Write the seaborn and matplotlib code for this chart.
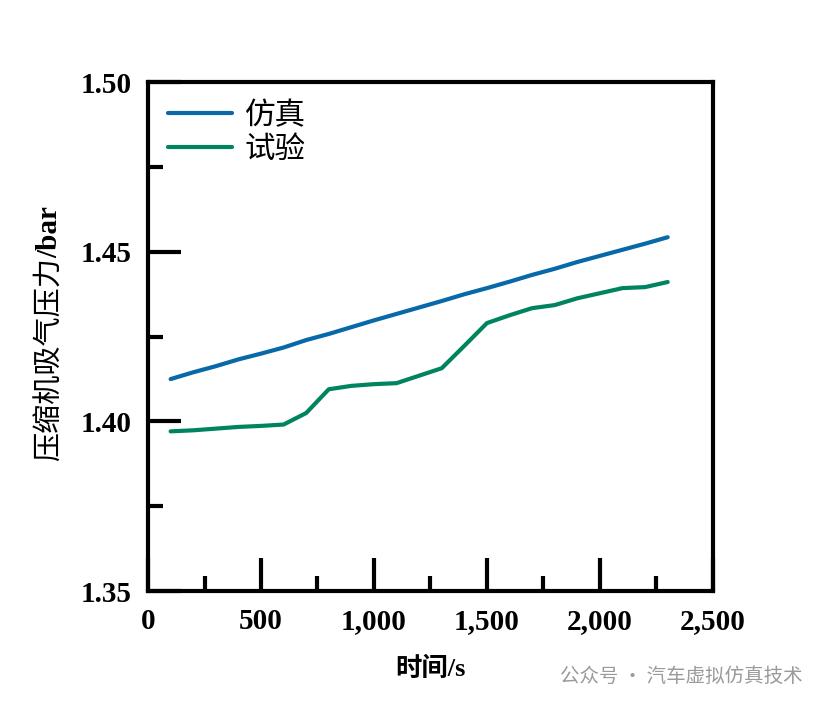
import numpy as np
import pandas as pd
import matplotlib
matplotlib.use("Agg")
import matplotlib.pyplot as plt
from matplotlib.ticker import MultipleLocator, FuncFormatter
import seaborn as sns

sns.set_style("white")
plt.rcParams["font.family"] = ["Liberation Serif", "Noto Sans CJK SC"]
plt.rcParams["text.color"] = "black"
plt.rcParams["axes.labelcolor"] = "black"
plt.rcParams["xtick.color"] = "black"
plt.rcParams["ytick.color"] = "black"

# 时间 (s)
time_s = [100, 200, 300, 400, 500, 600, 700, 800, 900, 1000, 1100, 1200,
          1300, 1400, 1500, 1600, 1700, 1800, 1900, 2000, 2100, 2200, 2300]
# 仿真
sim = [1.4125, 1.4145, 1.4163, 1.4183, 1.4200, 1.4218, 1.4240, 1.4258,
       1.4278, 1.4298, 1.4317, 1.4336, 1.4355, 1.4375, 1.4393, 1.4412,
       1.4432, 1.4450, 1.4470, 1.4488, 1.4506, 1.4524, 1.4543]
# 试验
test = [1.3971, 1.3974, 1.3979, 1.3984, 1.3987, 1.3991, 1.4025, 1.4095,
        1.4105, 1.4110, 1.4113, 1.4135, 1.4157, 1.4223, 1.4290, 1.4313,
        1.4334, 1.4343, 1.4363, 1.4378, 1.4393, 1.4396, 1.4411]

series_names = ["仿真", "试验"]
colors = ["#0868a8", "#00845f"]

df = pd.DataFrame({
    "time": time_s * 2,
    "pressure": sim + test,
    "case": [series_names[0]] * len(time_s) + [series_names[1]] * len(time_s),
})

fig = plt.figure(figsize=(8.27, 7.08), dpi=100)
ax = fig.add_axes([0.179, 0.165, 0.683, 0.719])

sns.lineplot(data=df, x="time", y="pressure", hue="case", palette=colors,
             linewidth=3, ax=ax)

ax.set_xlim(0, 2500)
ax.set_ylim(1.35, 1.50)
ax.xaxis.set_major_locator(MultipleLocator(500))
ax.xaxis.set_minor_locator(MultipleLocator(250))
ax.yaxis.set_major_locator(MultipleLocator(0.05))
ax.yaxis.set_minor_locator(MultipleLocator(0.025))
ax.xaxis.set_major_formatter(FuncFormatter(lambda v, p: f"{int(v):,}"))
ax.yaxis.set_major_formatter(FuncFormatter(lambda v, p: f"{v:.2f}"))

ax.tick_params(which="both", bottom=True, left=True, top=False, right=False)
ax.tick_params(which="major", direction="in", length=24, width=3,
               labelsize=21, pad=12, colors="black")
ax.tick_params(which="minor", direction="in", length=11, width=3, colors="black")
for lab in ax.get_xticklabels() + ax.get_yticklabels():
    lab.set_fontweight("bold")

for sp in ax.spines.values():
    sp.set_linewidth(3)
    sp.set_color("black")

ax.set_xlabel("时间/s", fontsize=19, fontweight="bold", labelpad=16)
# y label: Chinese part regular, unit part bold (as in the original)
ax.set_ylabel("压缩机吸气压力", fontsize=21)
ax.yaxis.set_label_coords(-0.15, 0.455)
ax.annotate("/bar", xy=(0.5, 1.0), xycoords=ax.yaxis.label,
            rotation=90, ha="center", va="bottom", fontsize=21,
            fontweight="bold", annotation_clip=False)

leg = ax.legend(loc="upper left", frameon=False, fontsize=22,
                handlelength=2.1, handletextpad=0.4, labelspacing=0.15,
                borderaxespad=0.25)
for line in leg.get_lines():
    line.set_linewidth(3)

fig.text(0.97, 0.045, "公众号 · 汽车虚拟仿真技术", ha="right", va="center",
         fontsize=14, color="#9a9a9a", family=["Noto Sans CJK SC", "DejaVu Sans"])

fig.savefig("out.png", dpi=100)
